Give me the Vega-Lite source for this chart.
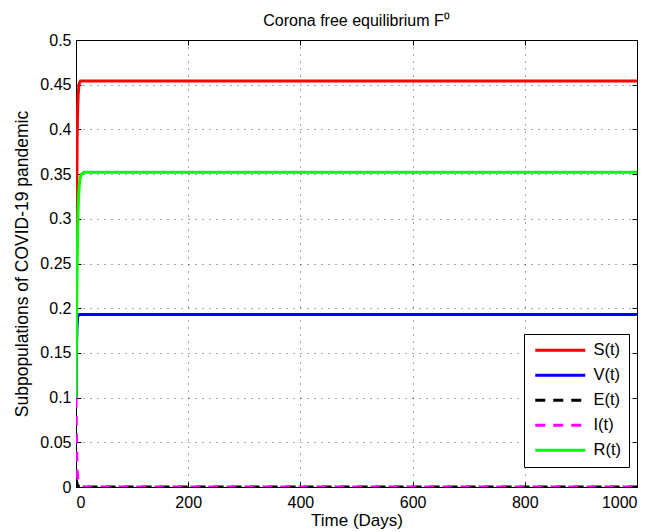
{
  "$schema": "https://vega.github.io/schema/vega-lite/v6.json",
  "width": 561,
  "height": 447,
  "autosize": "none",
  "padding": {"left": 76, "top": 40, "right": 31, "bottom": 45},
  "background": "white",
  "config": {
    "font": "Liberation Sans",
    "view": {"stroke": "black", "strokeWidth": 1},
    "axis": {
      "labelFont": "Liberation Sans",
      "titleFont": "Liberation Sans",
      "labelColor": "black",
      "titleColor": "black",
      "titleFontWeight": "normal",
      "domain": false,
      "tickColor": "black",
      "tickSize": -5,
      "labelFontSize": 16,
      "titleFontSize": 17
    }
  },
  "title": {
    "text": "Corona free equilibrium F⁰",
    "fontSize": 16,
    "fontWeight": "normal",
    "font": "Liberation Sans",
    "color": "black",
    "offset": 3
  },
  "data": {
    "values": [
      {"t": 0, "v": 0.10, "s": "S(t)"},
      {"t": 1, "v": 0.30, "s": "S(t)"},
      {"t": 2, "v": 0.39, "s": "S(t)"},
      {"t": 3, "v": 0.425, "s": "S(t)"},
      {"t": 4, "v": 0.44, "s": "S(t)"},
      {"t": 5, "v": 0.448, "s": "S(t)"},
      {"t": 6, "v": 0.452, "s": "S(t)"},
      {"t": 8, "v": 0.454, "s": "S(t)"},
      {"t": 20, "v": 0.454, "s": "S(t)"},
      {"t": 200, "v": 0.454, "s": "S(t)"},
      {"t": 500, "v": 0.454, "s": "S(t)"},
      {"t": 1000, "v": 0.454, "s": "S(t)"},
      {"t": 0, "v": 0.10, "s": "V(t)"},
      {"t": 1, "v": 0.16, "s": "V(t)"},
      {"t": 2, "v": 0.182, "s": "V(t)"},
      {"t": 3, "v": 0.19, "s": "V(t)"},
      {"t": 4, "v": 0.192, "s": "V(t)"},
      {"t": 6, "v": 0.193, "s": "V(t)"},
      {"t": 20, "v": 0.193, "s": "V(t)"},
      {"t": 500, "v": 0.193, "s": "V(t)"},
      {"t": 1000, "v": 0.193, "s": "V(t)"},
      {"t": 0, "v": 0.01, "s": "E(t)"},
      {"t": 1, "v": 0.006, "s": "E(t)"},
      {"t": 2, "v": 0.003, "s": "E(t)"},
      {"t": 4, "v": 0.001, "s": "E(t)"},
      {"t": 8, "v": 0.0, "s": "E(t)"},
      {"t": 500, "v": 0.0, "s": "E(t)"},
      {"t": 1000, "v": 0.0, "s": "E(t)"},
      {"t": 0, "v": 0.10, "s": "I(t)"},
      {"t": 1, "v": 0.05, "s": "I(t)"},
      {"t": 2, "v": 0.02, "s": "I(t)"},
      {"t": 3, "v": 0.01, "s": "I(t)"},
      {"t": 5, "v": 0.008, "s": "I(t)"},
      {"t": 7, "v": 0.005, "s": "I(t)"},
      {"t": 10, "v": 0.002, "s": "I(t)"},
      {"t": 15, "v": 0.0, "s": "I(t)"},
      {"t": 500, "v": 0.0, "s": "I(t)"},
      {"t": 1000, "v": 0.0, "s": "I(t)"},
      {"t": 0, "v": 0.10, "s": "R(t)"},
      {"t": 1, "v": 0.19, "s": "R(t)"},
      {"t": 2, "v": 0.25, "s": "R(t)"},
      {"t": 3, "v": 0.29, "s": "R(t)"},
      {"t": 4, "v": 0.315, "s": "R(t)"},
      {"t": 5, "v": 0.33, "s": "R(t)"},
      {"t": 6, "v": 0.339, "s": "R(t)"},
      {"t": 7, "v": 0.344, "s": "R(t)"},
      {"t": 8, "v": 0.347, "s": "R(t)"},
      {"t": 10, "v": 0.35, "s": "R(t)"},
      {"t": 12, "v": 0.351, "s": "R(t)"},
      {"t": 15, "v": 0.352, "s": "R(t)"},
      {"t": 100, "v": 0.352, "s": "R(t)"},
      {"t": 500, "v": 0.352, "s": "R(t)"},
      {"t": 1000, "v": 0.352, "s": "R(t)"}
    ]
  },
  "layer": [
    {
      "mark": {"type": "line", "strokeWidth": 3, "clip": true},
      "encoding": {
        "x": {
          "field": "t", "type": "quantitative",
          "scale": {"domain": [0, 1000], "nice": false},
          "axis": {"title": "Time (Days)", "format": "d", "values": [0, 200, 400, 600, 800, 1000], "grid": true, "gridColor": "black", "gridDash": [1, 6], "gridOpacity": 0.7, "labelPadding": 12, "titlePadding": 2}
        },
        "y": {
          "field": "v", "type": "quantitative",
          "scale": {"domain": [0, 0.5], "nice": false},
          "axis": {"title": "Subpopulations of COVID-19 pandemic", "titleFontSize": 17.5, "values": [0, 0.05, 0.1, 0.15, 0.2, 0.25, 0.3, 0.35, 0.4, 0.45, 0.5], "format": "~g", "grid": true, "gridColor": "black", "gridDash": [1, 6], "gridOpacity": 0.7, "labelPadding": 10, "titlePadding": 8}
        },
        "color": {
          "field": "s", "type": "nominal",
          "scale": {"domain": ["S(t)", "V(t)", "E(t)", "I(t)", "R(t)"], "range": ["#ff0000", "#0000ff", "#000000", "#ff00ff", "#00ff00"]},
          "legend": {
            "title": null, "orient": "none", "legendX": 448, "legendY": 294,
            "symbolType": "M-5,0L5,0", "symbolSize": 100, "symbolStrokeWidth": 3, "symbolOffset": 20,
            "labelFontSize": 16.5, "labelFont": "Liberation Sans", "labelColor": "black",
            "fillColor": "white", "strokeColor": "black", "padding": 8, "rowPadding": 8, "labelOffset": 25
          }
        },
        "strokeDash": {
          "field": "s", "type": "nominal",
          "scale": {"domain": ["S(t)", "V(t)", "E(t)", "I(t)", "R(t)"], "range": [[1, 0], [1, 0], [10, 8], [10, 8], [1, 0]]},
          "legend": null
        },
        "order": {"field": "t", "type": "quantitative"}
      }
    },
    {
      "mark": {"type": "line", "strokeOpacity": 0},
      "encoding": {
        "x": {"field": "t", "type": "quantitative", "axis": {"orient": "top", "title": null, "labels": false, "values": [0, 200, 400, 600, 800, 1000], "grid": false}},
        "y": {"field": "v", "type": "quantitative", "axis": {"orient": "right", "title": null, "labels": false, "values": [0, 0.05, 0.1, 0.15, 0.2, 0.25, 0.3, 0.35, 0.4, 0.45, 0.5], "grid": false}},
        "detail": {"field": "s"}
      }
    }
  ],
  "resolve": {"axis": {"x": "independent", "y": "independent"}}
}
